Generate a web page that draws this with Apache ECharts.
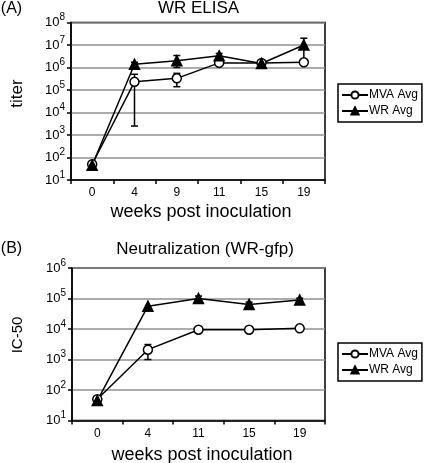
<!DOCTYPE html>
<html>
<head>
<meta charset="utf-8">
<script src="https://cdn.jsdelivr.net/npm/echarts@6/dist/echarts.min.js"></script>
<style>
html,body{margin:0;padding:0;background:#fff;}
#c{width:425px;height:463px;}
</style>
</head>
<body>
<div id="c"></div>
<script>
// ---- Data ----
var weeksA = ['0', '4', '9', '11', '15', '19'];
var mvaA = [50, 2.3e5, 3.3e5, 1.6e6, 1.6e6, 1.7e6];
var wrA = [45, 1.4e6, 2.0e6, 3.3e6, 1.5e6, 1.0e7];
var mvaALow = [null, 2500, 1.4e5, null, null, null];
var mvaAHigh = [null, 5.0e5, 5.5e5, null, null, null];
var wrALow = [null, 1.2e6, 1.0e6, 2.8e6, null, 1.7e6];
var wrAHigh = [null, 1.7e6, 3.4e6, 4.2e6, null, 2.0e7];

var weeksB = ['0', '4', '11', '15', '19'];
var mvaB = [50, 2100, 9500, 9500, 1.05e4];
var wrB = [45, 5.6e4, 1.0e5, 6.4e4, 8.9e4];
var mvaBLow = [null, 1000, null, 7800, 9000];
var mvaBHigh = [null, 3100, null, 1.0e4, 1.15e4];
var wrBLow = [null, null, 9.0e4, 5.5e4, 8.0e4];
var wrBHigh = [null, null, 1.2e5, 7.6e4, 1.02e5];

var yMinA = 10, yMaxA = 1e8;
var yMinB = 10, yMaxB = 1e6;

var seriesNames = ['MVA Avg', 'WR Avg'];
var titleA = 'WR ELISA', titleB = 'Neutralization (WR-gfp)';
var panelA = '(A)', panelB = '(B)';
var xName = 'weeks post inoculation';
var yNameA = 'titer', yNameB = 'IC-50';

// ---- helpers ----
var FONT = '"Liberation Sans", Arial, sans-serif';
function errData(low, high) {
  var out = [];
  for (var i = 0; i < low.length; i++) {
    if (low[i] != null && high[i] != null) out.push([i, low[i], high[i]]);
  }
  return out;
}
function errSeries(xi, low, high) {
  return {
    type: 'custom', xAxisIndex: xi, yAxisIndex: xi, z: 1, silent: true,
    encode: { x: 0, y: [1, 2] },
    data: errData(low, high),
    renderItem: function (params, api) {
      var x = api.value(0);
      var lo = api.coord([x, api.value(1)]);
      var hi = api.coord([x, api.value(2)]);
      var hw = 3.5;
      var st = { stroke: '#000', lineWidth: 1.5, fill: null };
      return {
        type: 'group',
        children: [
          { type: 'line', shape: { x1: lo[0], y1: lo[1], x2: hi[0], y2: hi[1] }, style: st },
          { type: 'line', shape: { x1: lo[0] - hw, y1: lo[1], x2: lo[0] + hw, y2: lo[1] }, style: st },
          { type: 'line', shape: { x1: hi[0] - hw, y1: hi[1], x2: hi[0] + hw, y2: hi[1] }, style: st }
        ]
      };
    }
  };
}
function lineSeries(xi, name, data, isCircle) {
  return {
    type: 'line', name: name, xAxisIndex: xi, yAxisIndex: xi, z: 3,
    data: data,
    symbol: isCircle ? 'circle' : 'triangle',
    symbolSize: isCircle ? 9 : 10,
    lineStyle: { color: '#000', width: 1.5 },
    itemStyle: { color: isCircle ? '#fff' : '#000', borderColor: '#000', borderWidth: 1.5 },
    emphasis: { disabled: true },
    animation: false
  };
}
function supLabel(v) {
  var e = Math.round(Math.log(v) / Math.LN10);
  return '{b|10}{s|' + e + '}';
}
function xAxisCfg(gi, cats) {
  return {
    type: 'category', gridIndex: gi, data: cats, boundaryGap: true,
    axisLine: { lineStyle: { color: '#000', width: 1.5 } },
    axisTick: { show: true, length: 4, lineStyle: { color: '#000', width: 1.5 } },
    axisLabel: { color: '#000', fontSize: 12, fontFamily: FONT, margin: 7 },
    splitLine: { show: false }
  };
}
function yAxisCfg(gi, mn, mx) {
  return {
    type: 'log', logBase: 10, gridIndex: gi, min: mn, max: mx, interval: 1,
    axisLine: { show: true, lineStyle: { color: '#000', width: 1.5 } },
    axisTick: { show: true, length: 4, lineStyle: { color: '#000', width: 1.5 } },
    axisLabel: {
      color: '#000', fontFamily: FONT, margin: 6, formatter: supLabel,
      rich: {
        b: { fontSize: 13, fontFamily: FONT, color: '#000', lineHeight: 20, verticalAlign: 'middle' },
        s: { fontSize: 10, fontFamily: FONT, color: '#000', lineHeight: 11, verticalAlign: 'top' }
      }
    },
    splitLine: { show: true, lineStyle: { color: '#909090', width: 1.5 } },
    minorTick: { show: false }
  };
}
function legendCfg(top) {
  return {
    orient: 'vertical', left: 338, top: top, data: seriesNames,
    backgroundColor: '#fff', borderColor: '#000', borderWidth: 1.5,
    padding: [5, 4, 5, 3], itemGap: 4, itemWidth: 26, itemHeight: 9,
    textStyle: { color: '#000', fontSize: 12, fontFamily: FONT, padding: [0, 0, 0, -4] },
    selectedMode: false
  };
}
function txt(x, y, s, size, opts) {
  var o = {
    type: 'text', x: x, y: y, silent: true,
    style: { text: s, fill: '#000', font: size + 'px ' + FONT, textAlign: 'center', textVerticalAlign: 'middle' }
  };
  if (opts) for (var k in opts) o[k] = opts[k];
  return o;
}

var chart = echarts.init(document.getElementById('c'), null, { renderer: 'canvas' });
chart.setOption({
  animation: false,
  backgroundColor: '#fff',
  grid: [
    { left: 71, top: 22.5, width: 254, height: 157.5, show: true, borderColor: '#000', borderWidth: 1.5, backgroundColor: '#fff' },
    { left: 72, top: 268, width: 253, height: 152.5, show: true, borderColor: '#000', borderWidth: 1.5, backgroundColor: '#fff' }
  ],
  xAxis: [xAxisCfg(0, weeksA), xAxisCfg(1, weeksB)],
  yAxis: [yAxisCfg(0, yMinA, yMaxA), yAxisCfg(1, yMinB, yMaxB)],
  legend: [legendCfg(84), legendCfg(343)],
  series: [
    errSeries(0, mvaALow, mvaAHigh),
    errSeries(0, wrALow, wrAHigh),
    lineSeries(0, seriesNames[0], mvaA, true),
    lineSeries(0, seriesNames[1], wrA, false),
    errSeries(1, mvaBLow, mvaBHigh),
    errSeries(1, wrBLow, wrBHigh),
    lineSeries(1, seriesNames[0], mvaB, true),
    lineSeries(1, seriesNames[1], wrB, false)
  ],
  graphic: [
    txt(11.5, 8.5, panelA, 16),
    txt(198.5, 8.5, titleA, 17),
    txt(201, 212, xName, 18),
    txt(17.5, 93.5, yNameA, 17, { rotation: Math.PI / 2 }),
    txt(11.5, 249, panelB, 16),
    txt(205, 249, titleB, 17),
    txt(202, 455, xName, 18),
    txt(18, 335, yNameB, 15, { rotation: Math.PI / 2 })
  ]
});
</script>
</body>
</html>
